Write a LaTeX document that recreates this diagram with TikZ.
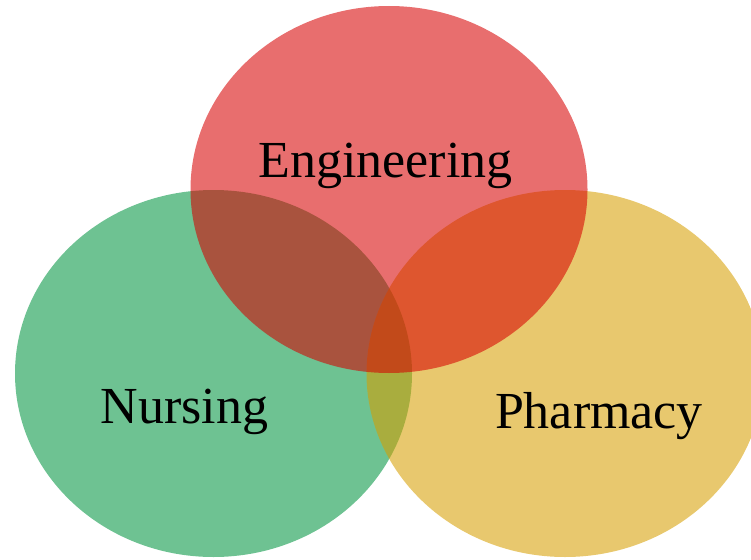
\documentclass[tikz,border=0pt]{standalone}
\usepackage{fontspec}
\setmainfont{Liberation Serif}
\usetikzlibrary{shapes.geometric}
\definecolor{cred}{RGB}{215,0,0}
\definecolor{cgreen}{RGB}{0,148,64}
\definecolor{cyellow}{RGB}{215,159,0}
\tikzset{
  setcircle/.style={ellipse, inner sep=0pt, outer sep=0pt, minimum width=397pt, minimum height=367pt, fill opacity=0.57},
  setlabel/.style={inner sep=0pt, anchor=base, text=black, font=\fontsize{52}{54}\selectfont}
}
\begin{document}
\begin{tikzpicture}[x=1pt,y=-1pt]
\useasboundingbox (0,0) rectangle (751,559);
\clip (0,0) rectangle (751,559);
\node[setcircle, fill=cgreen] (nursing) at (213.5,373.5) {};
\node[setcircle, fill=cyellow] (pharmacy) at (565,373.5) {};
\node[setcircle, fill=cred] (engineering) at (389,189.5) {};
\node[setlabel] (tengineering) at (385.5,177) {Engineering};
\node[setlabel] (tnursing) at (184.5,423) {Nursing};
\node[setlabel] (tpharmacy) at (599,428) {Pharmacy};
\end{tikzpicture}
\end{document}
